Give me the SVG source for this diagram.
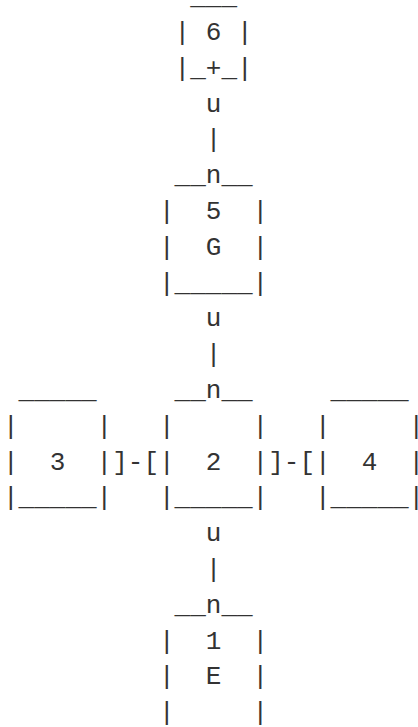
<svg xmlns="http://www.w3.org/2000/svg" width="418" height="727" viewBox="0 0 418 727">
<style>
text{font-family:"Liberation Mono","DejaVu Sans Mono",monospace;font-size:26px;fill:#333;white-space:pre}
</style>
<rect width="418" height="727" fill="#fff"/>
<g id="node6">
<text x="190.2" y="4.2">___</text>
<text x="174.6" y="40">| 6 |</text>
<text x="174.6" y="75.8">|_+_|</text>
</g>
<g id="node5">
<text x="174.6" y="183.2">__</text><text x="221.4" y="183.2">__</text>
<text x="159" y="219" xml:space="preserve">|  5  |</text>
<text x="159" y="254.8" xml:space="preserve">|  G  |</text>
<text x="159" y="290.6">|_____|</text>
</g>
<g id="node3">
<text x="18.6" y="398">_____</text>
<text x="3" y="433.8" xml:space="preserve">|     |</text>
<text x="3" y="469.6" xml:space="preserve">|  3  |</text>
<text x="3" y="505.4">|_____|</text>
</g>
<g id="node2">
<text x="174.6" y="398">__</text><text x="221.4" y="398">__</text>
<text x="159" y="433.8" xml:space="preserve">|     |</text>
<text x="159" y="469.6" xml:space="preserve">|  2  |</text>
<text x="159" y="505.4">|_____|</text>
</g>
<g id="node4">
<text x="330.6" y="398">_____</text>
<text x="315" y="433.8" xml:space="preserve">|     |</text>
<text x="315" y="469.6" xml:space="preserve">|  4  |</text>
<text x="315" y="505.4">|_____|</text>
</g>
<g id="node1">
<text x="174.6" y="612.8">__</text><text x="221.4" y="612.8">__</text>
<text x="159" y="648.6" xml:space="preserve">|  1  |</text>
<text x="159" y="684.4" xml:space="preserve">|  E  |</text>
<text x="159" y="720.2" xml:space="preserve">|     |</text>
</g>
<g id="connectors">
<text x="205.8" y="111.6">u</text>
<text x="205.8" y="147.4">|</text>
<text x="205.8" y="183.2">n</text>
<text x="205.8" y="326.4">u</text>
<text x="205.8" y="362.2">|</text>
<text x="205.8" y="398">n</text>
<text x="112.2" y="469.6">]-[</text>
<text x="268.2" y="469.6">]-[</text>
<text x="205.8" y="541.2">u</text>
<text x="205.8" y="577">|</text>
<text x="205.8" y="612.8">n</text>
</g>
</svg>
